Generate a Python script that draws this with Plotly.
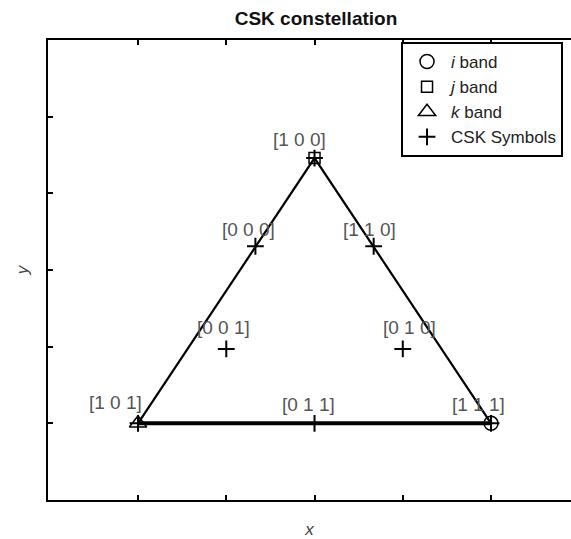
import plotly.graph_objects as go

# Band corner points (i, j, k) of the colour triangle
band_names = ["<i>i</i> band", "<i>j</i> band", "<i>k</i> band"]
band_symbols = ["circle-open", "square-open", "triangle-up-open"]
band_x = [0.5, 0.3, 0.1]
band_y = [0.1, 0.446, 0.1]

# 8-CSK constellation symbols and their bit labels
sym_labels = ["[1 0 0]", "[0 0 0]", "[1 1 0]", "[0 0 1]",
              "[0 1 0]", "[1 0 1]", "[0 1 1]", "[1 1 1]"]
sym_x = [0.3, 0.233, 0.367, 0.2, 0.4, 0.1, 0.3, 0.5]
sym_y = [0.446, 0.331, 0.331, 0.197, 0.197, 0.1, 0.1, 0.1]

# pixel offsets of each bit label from its symbol
label_dx = [-15, -7, -4, -3, 7, -23, -6, -13]
label_dy = [19, 17, 17, 21, 21, 21, 19, 19]

tick_vals = [0.1, 0.2, 0.3, 0.4, 0.5]

FONT = "Liberation Sans, Arial, sans-serif"

fig = go.Figure()

# triangle outline (closed through the three band points)
fig.add_trace(go.Scatter(
    x=band_x + [band_x[0]], y=band_y + [band_y[0]],
    mode="lines", line=dict(color="black", width=2.2),
    showlegend=False, hoverinfo="skip"))
# heavier base edge between the i and k bands
fig.add_trace(go.Scatter(
    x=[band_x[2], band_x[0]], y=[band_y[2], band_y[0]],
    mode="lines", line=dict(color="black", width=4),
    showlegend=False, hoverinfo="skip"))

band_sizes = [14, 11, 15]
for name, sym, bx, by, sz in zip(band_names, band_symbols, band_x, band_y, band_sizes):
    fig.add_trace(go.Scatter(
        x=[bx], y=[by], mode="markers", name=name,
        marker=dict(symbol=sym, size=sz, color="black",
                    line=dict(color="black", width=1.5))))

fig.add_trace(go.Scatter(
    x=sym_x, y=sym_y, mode="markers", name="CSK Symbols",
    marker=dict(symbol="cross-thin-open", size=12, color="black",
                line=dict(color="black", width=2))))

for lab, sx, sy, dx, dy in zip(sym_labels, sym_x, sym_y, label_dx, label_dy):
    fig.add_annotation(x=sx, y=sy, text=lab, showarrow=False,
                       xshift=dx, yshift=dy,
                       font=dict(family=FONT, size=19, color="#555555"))

axis_common = dict(
    showgrid=False, zeroline=False, showline=True, linecolor="black",
    linewidth=2, ticks="inside", ticklen=5, tickwidth=2, tickcolor="black",
    tickvals=tick_vals, showticklabels=False)

fig.update_xaxes(range=[-0.002, 0.5906], mirror="ticks",
                 title=dict(text="<i>x</i>", standoff=28,
                            font=dict(family=FONT, size=17, color="#444444")),
                 **axis_common)
fig.update_yaxes(range=[0, 0.6], mirror=False,
                 title=dict(text="<i>y</i>", standoff=13,
                            font=dict(family=FONT, size=17, color="#444444")),
                 **axis_common)

fig.update_layout(
    width=571, height=539,
    margin=dict(l=48, r=0, t=40, b=39, pad=0, autoexpand=False),
    paper_bgcolor="white", plot_bgcolor="white",
    title=dict(text="<b>CSK constellation</b>", x=316 / 571, xref="container",
               xanchor="center", y=1 - 18 / 539, yref="container",
               yanchor="middle",
               font=dict(family=FONT, size=19, color="#111111")),
    legend=dict(x=0.675, y=0.9957, xanchor="left", yanchor="top",
                bgcolor="white", bordercolor="black", borderwidth=2,
                font=dict(family=FONT, size=17, color="#222222"),
                itemwidth=38, itemsizing="trace"),
    font=dict(family=FONT),
)

fig.write_html("out.html")
